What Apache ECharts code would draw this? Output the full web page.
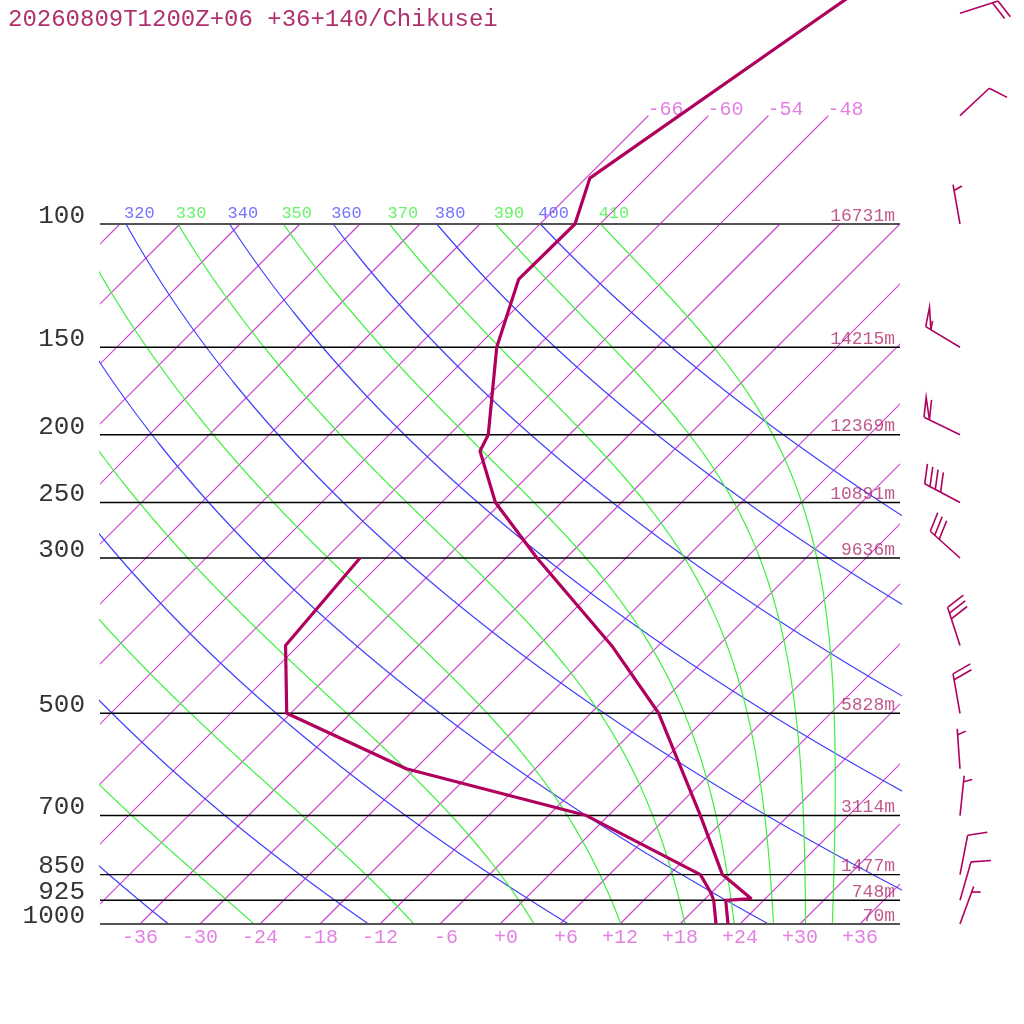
<!DOCTYPE html>
<html>
<head>
<meta charset="utf-8">
<script src="https://cdn.jsdelivr.net/npm/echarts@6/dist/echarts.min.js"></script>
<style>html,body{margin:0;padding:0;background:#fff}#c{width:1024px;height:1024px}</style>
</head>
<body>
<div id="c"></div>
<script>
// ---------- data ----------
const TITLE = '20260809T1200Z+06 +36+140/Chikusei';
const pressureLevels = [100, 150, 200, 250, 300, 500, 700, 850, 925, 1000];
const heightLabels = ['16731m', '14215m', '12369m', '10891m', '9636m', '5828m', '3114m', '1477m', '748m', '70m'];
const tempTicks = [-36, -30, -24, -18, -12, -6, 0, 6, 12, 18, 24, 30, 36];
const isothermStep = 6;
const upperIsotherms = [-66, -60, -54, -48];
const dryThetas = [240, 260, 280, 300, 320, 340, 360, 380, 400];
const moistThetaEs = [250, 270, 290, 310, 330, 350, 370, 390, 410];

const tempP = [1000, 925, 920, 850, 700, 500, 400, 300, 250, 211, 200, 150, 120, 100, 86, 50, 30];
const tempT = [22.8, 20.2, 22.6, 17.3, 9.2, -5.2, -16.7, -32.9, -42.6, -49.3, -50.1, -58.0, -62.6, -62.5, -65.6, -58.5, -51.7];
const dewP = [1000, 925, 903, 850, 700, 600, 500, 400, 300];
const dewT = [21.6, 19.0, 18.0, 15.1, -2.2, -24.9, -42.4, -49.3, -50.6];

const windP = [1000, 925, 850, 700, 600, 500, 400, 300, 250, 200, 150, 100, 70, 50];
const windDir = [20, 16, 11, 6, 356, 350, 342, 312, 298, 296, 301, 350, 47, 72];
const windSpd = [5, 10, 10, 5, 5, 20, 30, 30, 40, 60, 55, 5, 10, 20];

// ---------- skew-T helpers ----------
const SKEW = 70; // x-units per decade of pressure
const TOP_P = 1000 / Math.pow(10, 924 / 700);
function skewX(T, p) { return T + SKEW * Math.log10(1000 / p); }
function pt(T, p) { return [skewX(T, p), p]; }

const FONT = 'Liberation Mono';
const C_PROFILE = '#b0005e';
const C_TEXT = '#b0306e';
const C_ISO = '#d040d0';
const C_ISO_LBL = '#dd5fdd';
const C_DRY = '#4040ff';
const C_MOIST = '#3ef03e';

// dry adiabats
function dryLine(theta) {
  const out = [];
  for (let i = 0; i <= 80; i++) {
    const p = 1000 * Math.pow(10, -i / 80);
    const T = theta * Math.pow(p / 1000, 0.2857) - 273.15;
    out.push(pt(T, p));
  }
  return out;
}
// moist (pseudo) adiabats labelled by theta-e (Bolton)
function esat(Tc) { return 6.112 * Math.exp(17.67 * Tc / (Tc + 243.5)); }
function thetaE(Tk, p) {
  const e = esat(Tk - 273.15), r = 0.622 * e / (p - e);
  return Tk * Math.pow(1000 / p, 0.2854 * (1 - 0.28 * r)) * Math.exp((3.376 / Tk - 0.00254) * r * 1000 * (1 + 0.81 * r));
}
function moistRate(T, p) {
  const Rd = 287.04, cp = 1005.7, Lv = 2.501e6, eps = 0.622;
  const e = esat(T - 273.15), rs = eps * e / (p - e);
  return (Rd * T + Lv * rs) / (cp + Lv * Lv * rs * eps / (Rd * T * T));
}
function moistLine(te) {
  let lo = 200, hi = 330;
  for (let k = 0; k < 60; k++) { const m = (lo + hi) / 2; if (thetaE(m, 1000) < te) lo = m; else hi = m; }
  let T = (lo + hi) / 2;
  const n = 160, l0 = Math.log(1000), l1 = Math.log(100), h = (l1 - l0) / n;
  const out = [pt(T - 273.15, 1000)];
  let lp = l0;
  for (let i = 0; i < n; i++) {
    const f = (TT, L) => moistRate(TT, Math.exp(L));
    const k1 = f(T, lp), k2 = f(T + h * k1 / 2, lp + h / 2), k3 = f(T + h * k2 / 2, lp + h / 2), k4 = f(T + h * k3, lp + h);
    T += h * (k1 + 2 * k2 + 2 * k3 + k4) / 6; lp += h;
    out.push(pt(T - 273.15, Math.exp(lp)));
  }
  return out;
}

const series = [];
function lineSeries(data, color, width, z) {
  return {
    type: 'line', symbol: 'none', silent: true, animation: false, clip: true,
    data: data, color: color, z: z,
    itemStyle: { color: color },
    lineStyle: { color: color, width: width, opacity: 1 }
  };
}

// isotherms (custom series, clipped to the grid)
const isoData = [];
for (let T = -120; T <= 36; T += isothermStep) isoData.push([T, upperIsotherms.indexOf(T) >= 0 ? 70 : 100]);
series.push({
  type: 'custom', silent: true, animation: false, clip: true, z: 1,
  data: isoData,
  renderItem: function (params, api) {
    const T = api.value(0), top = api.value(1);
    const a = api.coord(pt(T, 1000)), b = api.coord(pt(T, top));
    return { type: 'line', shape: { x1: a[0], y1: a[1], x2: b[0], y2: b[1] }, style: { stroke: C_ISO, lineWidth: 1.2, fill: null } };
  }
});
// dry adiabats
const dryLines = dryThetas.map(dryLine);
dryLines.forEach(d => series.push(lineSeries(d, C_DRY, 1.2, 2)));
// moist adiabats
const moistLines = moistThetaEs.map(moistLine);
moistLines.forEach(d => series.push(lineSeries(d, C_MOIST, 1.2, 2)));
// pressure lines
pressureLevels.forEach(p => {
  const edge = (p === 100 || p === 1000);
  series.push(lineSeries([[-40, p], [40, p]], edge ? '#555555' : '#000000', edge ? 2.2 : 1.4, 3));
});

const lblBase = { type: 'scatter', symbolSize: 0, silent: true, animation: false, z: 5 };
// pressure labels
series.push(Object.assign({}, lblBase, {
  clip: false,
  data: pressureLevels.map(p => [-40, p]),
  label: { show: true, position: 'left', distance: 15, offset: [0, -8], formatter: o => String(o.value[1]), fontFamily: FONT, fontSize: 26, color: '#000' }
}));
// height labels
series.push(Object.assign({}, lblBase, {
  clip: false,
  data: pressureLevels.map((p, i) => ({ value: [40, p], name: heightLabels[i] })),
  label: { show: true, position: 'left', distance: 5, offset: [0, -8], formatter: o => o.name, fontFamily: FONT, fontSize: 18, color: C_TEXT }
}));
// temperature tick labels
function fmtT(v) { let s = (v < 0 ? '-' : '+') + Math.abs(v); while (s.length < 3) s = ' ' + s; return s; }
series.push(Object.assign({}, lblBase, {
  clip: false,
  data: tempTicks.map(t => ({ value: [t, 1000], name: fmtT(t) })),
  label: { show: true, position: 'bottom', distance: 4, formatter: o => o.name, fontFamily: FONT, fontSize: 20, color: C_ISO_LBL }
}));
// upper isotherm labels
series.push(Object.assign({}, lblBase, {
  clip: false,
  data: upperIsotherms.map(t => ({ value: pt(t, 70), name: String(t) })),
  label: { show: true, position: 'right', distance: -1, offset: [0, -6], formatter: o => o.name, fontFamily: FONT, fontSize: 20, color: C_ISO_LBL }
}));
// adiabat labels at 100 hPa
function adLabels(lines, vals, color) {
  series.push(Object.assign({}, lblBase, {
    clip: true,
    data: lines.map((d, i) => ({ value: d[d.length - 1], name: String(vals[i]) })).filter(o => o.value[0] >= -40 && o.value[0] <= 40),
    label: { show: true, position: 'right', distance: -2, offset: [0, -11], formatter: o => o.name, fontFamily: FONT, fontSize: 17, color: color }
  }));
}
adLabels(dryLines, dryThetas, '#5050ff');
adLabels(moistLines, moistThetaEs, '#44ee44');

// profiles
series.push(lineSeries(dewP.map((p, i) => pt(dewT[i], p)), C_PROFILE, 3.2, 6));
series.push(lineSeries(tempP.map((p, i) => pt(tempT[i], p)), C_PROFILE, 3.2, 6));

// wind barbs
series.push({
  type: 'custom', silent: true, animation: false, clip: false, z: 6,
  data: windP.map((p, i) => [p, windDir[i], windSpd[i]]),
  encode: { y: 0 },
  renderItem: function (params, api) {
    const p = api.value(0), dir = api.value(1), spd = api.value(2);
    const c = api.coord([40, p]);
    const bx = c[0] + 60, by = c[1];
    const rad = d => d * Math.PI / 180;
    const u = [Math.sin(rad(dir)), -Math.cos(rad(dir))];
    const b = [Math.sin(rad(dir + 70)), -Math.cos(rad(dir + 70))];
    const L = 40, S = 6;
    const tip = [bx + L * u[0], by + L * u[1]];
    const st = { stroke: C_PROFILE, lineWidth: 1.6, fill: null };
    const kids = [{ type: 'line', shape: { x1: bx, y1: by, x2: tip[0], y2: tip[1] }, style: st }];
    const P = i => [tip[0] - i * S * u[0], tip[1] - i * S * u[1]];
    let n50 = Math.floor(spd / 50), rem = spd - n50 * 50;
    let n10 = Math.floor(rem / 10), n5 = (rem - n10 * 10) >= 5 ? 1 : 0;
    let i = (n50 === 0 && n10 === 0) ? 1 : 0;
    for (let k = 0; k < n50; k++, i++) {
      const a = P(i), q = P(i + 1);
      kids.push({ type: 'polyline', shape: { points: [a, [a[0] + 20 * b[0], a[1] + 20 * b[1]], q] }, style: st });
    }
    for (let k = 0; k < n10; k++, i++) {
      const a = P(i);
      kids.push({ type: 'line', shape: { x1: a[0], y1: a[1], x2: a[0] + 20 * b[0], y2: a[1] + 20 * b[1] }, style: st });
    }
    if (n5) {
      const a = P(i);
      kids.push({ type: 'line', shape: { x1: a[0], y1: a[1], x2: a[0] + 9 * b[0], y2: a[1] + 9 * b[1] }, style: st });
    }
    return { type: 'group', children: kids };
  }
});

const chart = echarts.init(document.getElementById('c'), null, { renderer: 'canvas' });
chart.setOption({
  animation: false,
  backgroundColor: '#fff',
  title: { text: TITLE, left: 3, top: 3, textStyle: { fontFamily: FONT, fontSize: 24, fontWeight: 'normal', color: C_TEXT } },
  grid: { left: 100, top: 0, width: 800, height: 924, containLabel: false },
  xAxis: { type: 'value', min: -40, max: 40, show: false, splitLine: { show: false } },
  yAxis: { type: 'log', logBase: 10, inverse: true, min: TOP_P, max: 1000, show: false, splitLine: { show: false } },
  series: series
});
</script>
</body>
</html>
